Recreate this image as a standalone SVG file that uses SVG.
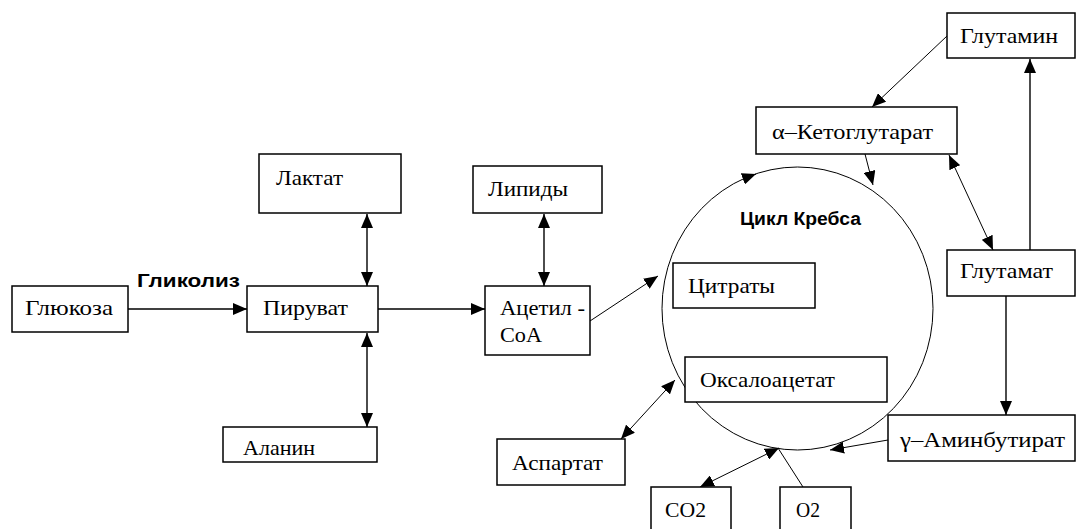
<svg xmlns="http://www.w3.org/2000/svg" width="1078" height="529" viewBox="0 0 1078 529">
<style>
.box{fill:#fff;stroke:#000;stroke-width:1.5}
.t{font-family:"Liberation Serif","Times New Roman",serif;font-size:21px;fill:#000}
.b{font-family:"Liberation Sans",Arial,sans-serif;font-size:18px;font-weight:bold;fill:#000}
.c{fill:none;stroke:#000;stroke-width:1.4}
.d{fill:none;stroke:#000;stroke-width:1}
</style>
<defs>
<marker id="a" markerUnits="userSpaceOnUse" markerWidth="14" markerHeight="12" refX="14" refY="6" orient="auto-start-reverse">
<path d="M0,0 L14,6 L0,12 z" fill="#000"/>
</marker>
</defs>
<rect width="1078" height="529" fill="#fff"/>
<g id="cycle">
<ellipse cx="797.5" cy="308.5" rx="135.5" ry="141.5" fill="none" stroke="#000" stroke-width="1"/>
<path d="M745,178 L756,174" class="d" marker-end="url(#a)"/>
<text class="b" x="740" y="225" textLength="121" lengthAdjust="spacingAndGlyphs">Цикл Кребса</text>
</g>
<g id="connectors">
<line class="c" x1="128" y1="309" x2="247" y2="309" marker-end="url(#a)"/>
<line class="c" x1="378" y1="309" x2="485" y2="309" marker-end="url(#a)"/>
<line class="c" x1="367" y1="214" x2="367" y2="286" marker-start="url(#a)" marker-end="url(#a)"/>
<line class="c" x1="367" y1="333" x2="367" y2="427" marker-start="url(#a)" marker-end="url(#a)"/>
<line class="c" x1="544" y1="214" x2="544" y2="286" marker-start="url(#a)" marker-end="url(#a)"/>
<line class="d" x1="590" y1="321" x2="658" y2="276" marker-end="url(#a)"/>
<line class="d" x1="621" y1="439" x2="675" y2="380" marker-start="url(#a)" marker-end="url(#a)"/>
<line class="d" x1="947" y1="36" x2="872" y2="107" marker-end="url(#a)"/>
<line class="d" x1="865" y1="154" x2="873" y2="185" marker-end="url(#a)"/>
<line class="d" x1="949" y1="155" x2="993" y2="250" marker-start="url(#a)" marker-end="url(#a)"/>
<line class="c" x1="1030" y1="250" x2="1030" y2="59" marker-end="url(#a)"/>
<line class="c" x1="1006" y1="296" x2="1006" y2="415" marker-end="url(#a)"/>
<line class="d" x1="888" y1="440" x2="830" y2="450" marker-end="url(#a)"/>
<line class="d" x1="700" y1="487" x2="779" y2="448" marker-start="url(#a)" marker-end="url(#a)"/>
<line class="d" x1="803" y1="487" x2="778" y2="448"/>
</g>
<g id="n-glutamin"><rect class="box" x="947" y="13" width="128" height="45"/><text class="t" x="960" y="43" textLength="98" lengthAdjust="spacingAndGlyphs">Глутамин</text></g>
<g id="n-ketoglutarat"><rect class="box" x="756" y="107" width="201" height="47"/><text class="t" x="772" y="139" textLength="161" lengthAdjust="spacingAndGlyphs">α–Кетоглутарат</text></g>
<g id="n-glutamat"><rect class="box" x="947" y="250" width="128" height="46"/><text class="t" x="960" y="278" textLength="93" lengthAdjust="spacingAndGlyphs">Глутамат</text></g>
<g id="n-gaba"><rect class="box" x="888" y="415" width="187" height="46"/><text class="t" x="900" y="447" textLength="165" lengthAdjust="spacingAndGlyphs">γ–Аминбутират</text></g>
<g id="n-citraty"><rect class="box" x="673" y="263" width="142" height="45"/><text class="t" x="688" y="293" textLength="87" lengthAdjust="spacingAndGlyphs">Цитраты</text></g>
<g id="n-oksaloacetat"><rect class="box" x="685" y="357" width="202" height="45"/><text class="t" x="700" y="387" textLength="135" lengthAdjust="spacingAndGlyphs">Оксалоацетат</text></g>
<g id="n-acetil"><rect class="box" x="485" y="286" width="105" height="69"/><text class="t" x="500" y="315" textLength="85" lengthAdjust="spacingAndGlyphs">Ацетил -</text><text class="t" x="500" y="342" textLength="42" lengthAdjust="spacingAndGlyphs">CoA</text></g>
<g id="n-lipidy"><rect class="box" x="473" y="166" width="129" height="47"/><text class="t" x="488" y="196" textLength="80" lengthAdjust="spacingAndGlyphs">Липиды</text></g>
<g id="n-laktat"><rect class="box" x="259" y="154" width="142" height="59"/><text class="t" x="276" y="185" textLength="67" lengthAdjust="spacingAndGlyphs">Лактат</text></g>
<g id="n-piruvat"><rect class="box" x="247" y="286" width="131" height="46"/><text class="t" x="263" y="315" textLength="85" lengthAdjust="spacingAndGlyphs">Пируват</text></g>
<g id="n-glukoza"><rect class="box" x="12" y="286" width="116" height="46"/><text class="t" x="25" y="315" textLength="88" lengthAdjust="spacingAndGlyphs">Глюкоза</text></g>
<g id="l-glikoliz"><text class="b" x="137" y="287" textLength="103" lengthAdjust="spacingAndGlyphs">Гликолиз</text></g>
<g id="n-alanin"><rect class="box" x="223" y="427" width="154" height="35"/><text class="t" x="243" y="455" font-size="19" textLength="72" lengthAdjust="spacingAndGlyphs">Аланин</text></g>
<g id="n-aspartat"><rect class="box" x="497" y="439" width="128" height="46"/><text class="t" x="512" y="470" textLength="91" lengthAdjust="spacingAndGlyphs">Аспартат</text></g>
<g id="n-co2"><rect class="box" x="651" y="487" width="80" height="50"/><text class="t" x="665" y="517" textLength="41" lengthAdjust="spacingAndGlyphs">CO2</text></g>
<g id="n-o2"><rect class="box" x="780" y="487" width="71" height="50"/><text class="t" x="796" y="517" textLength="24" lengthAdjust="spacingAndGlyphs">O2</text></g>
</svg>
